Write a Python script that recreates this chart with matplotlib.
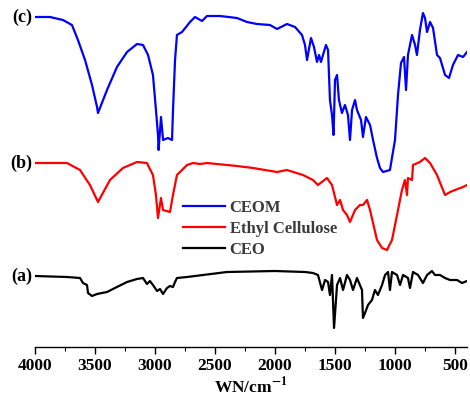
import numpy as np
import matplotlib
matplotlib.use("Agg")
import matplotlib.pyplot as plt
from matplotlib.ticker import MultipleLocator

plt.rcParams['font.family'] = 'Liberation Serif'
plt.rcParams['mathtext.fontset'] = 'stix'

# FTIR spectra (wavenumber, transmittance in arbitrary offset units)
ceom_wn = [4000, 3875, 3767, 3692, 3642, 3583, 3525, 3483, 3475, 3400, 3317, 3233, 3150, 3100,
           3058, 3017, 2992, 2975, 2970, 2950, 2933, 2892, 2858, 2850, 2833, 2817, 2775, 2708,
           2667, 2608, 2567, 2458, 2317, 2233, 2150, 2042, 1983, 1900, 1833, 1775, 1750, 1733,
           1700, 1675, 1650, 1633, 1617, 1600, 1575, 1558, 1542, 1525, 1512, 1500, 1483, 1467,
           1442, 1417, 1392, 1375, 1358, 1333, 1317, 1283, 1267, 1242, 1208, 1183, 1150, 1125,
           1100, 1042, 1017, 1000, 975, 950, 925, 908, 892, 858, 833, 817, 792, 767, 750, 733,
           708, 683, 650, 625, 583, 550, 517, 475, 433, 400]
ceom_t = [330, 330, 327, 322, 307, 287, 262, 240, 234, 257, 280, 295, 303, 302,
          292, 272, 237, 212, 197, 230, 207, 209, 207, 237, 287, 312, 315, 325,
          330, 326, 331, 331, 329, 325, 323, 322, 318, 323, 320, 312, 302, 287,
          309, 300, 285, 292, 285, 292, 302, 297, 247, 232, 212, 267, 272, 247,
          234, 242, 232, 207, 237, 247, 237, 227, 210, 230, 222, 207, 189, 179,
          175, 177, 195, 207, 252, 284, 290, 257, 292, 312, 302, 292, 317, 334, 329, 315,
          325, 319, 292, 289, 272, 269, 282, 292, 290, 295]

ec_wn = [4000, 3733, 3625, 3542, 3475, 3375, 3267, 3150, 3067, 3017, 2992, 2975, 2950, 2933,
         2875, 2850, 2817, 2775, 2733, 2683, 2625, 2567, 2317, 2183, 1983, 1900, 1767, 1683,
         1642, 1567, 1525, 1483, 1458, 1433, 1400, 1375, 1333, 1292, 1267, 1233, 1208, 1150,
         1108, 1067, 1025, 983, 942, 917, 900, 892, 858, 850, 792, 750, 708, 650, 583, 540,
         500, 433, 400]
ec_t = [184, 184, 177, 162, 145, 167, 179, 185, 184, 172, 152, 129, 149, 137,
        135, 152, 172, 177, 182, 184, 183, 184, 181, 179, 175, 177, 172, 167,
        162, 169, 162, 142, 147, 137, 132, 125, 137, 142, 142, 147, 137, 107,
        99, 97, 107, 132, 157, 167, 152, 169, 167, 182, 185, 189, 184, 172, 152, 155,
        157, 160, 162]

ceo_wn = [4000, 3733, 3625, 3600, 3567, 3558, 3525, 3483, 3400, 3317, 3233, 3150, 3100, 3067,
          3042, 3017, 2983, 2958, 2933, 2900, 2875, 2850, 2833, 2817, 2733, 2400, 2000, 1750,
          1683, 1642, 1608, 1583, 1558, 1542, 1525, 1508, 1483, 1458, 1433, 1400, 1375, 1350,
          1317, 1275, 1267, 1250, 1225, 1192, 1167, 1142, 1108, 1083, 1058, 1042, 1025, 983,
          958, 933, 892, 875, 850, 808, 767, 733, 692, 667, 625, 583, 542, 483, 442, 400]
ceo_t = [71, 70, 69, 64, 62, 54, 51, 53, 55, 60, 65, 68, 69, 63,
         66, 62, 56, 58, 53, 59, 61, 60, 65, 69, 70, 75, 76, 75,
         74, 72, 57, 67, 65, 52, 72, 19, 62, 69, 57, 72, 67, 57,
         69, 57, 29, 34, 42, 47, 57, 52, 62, 72, 75, 57, 75, 72,
         62, 72, 69, 59, 75, 72, 64, 72, 76, 72, 72, 69, 67, 67, 64, 66]

labels = ['CEOM', 'Ethyl Cellulose', 'CEO']
tags = ['(c)', '(b)', '(a)']
colors = ['#0000ff', '#ff0000', '#000000']

fig = plt.figure(figsize=(4.7, 3.98), dpi=100)
ax = fig.add_axes([35 / 470, 51 / 398, 432 / 470, 347 / 398])

series = [(ceom_wn, ceom_t), (ec_wn, ec_t), (ceo_wn, ceo_t)]
for (wn, t), lab, c, tag in zip(series, labels, colors, tags):
    ax.plot(wn, t, color=c, lw=1.6, label=lab)
    ax.text(4020, t[0], tag, ha='right', va='center', fontsize=13,
            fontweight='bold', clip_on=False)

ax.set_xlim(4000, 400)
ax.set_ylim(0, 347)
for s in ['left', 'top', 'right']:
    ax.spines[s].set_visible(False)
ax.spines['bottom'].set_linewidth(1.0)
ax.set_yticks([])
ax.xaxis.set_major_locator(MultipleLocator(500))
ax.xaxis.set_minor_locator(MultipleLocator(250))
ax.tick_params(axis='x', which='major', direction='out', length=5, width=1.0,
               labelsize=12.5, pad=3)
ax.tick_params(axis='x', which='minor', direction='out', length=3, width=0.8)
for lbl in ax.get_xticklabels():
    lbl.set_fontweight('bold')
ax.set_xlabel(r'WN/cm$^{\mathbf{-1}}$', fontsize=12.5, fontweight='bold')
ax.xaxis.set_label_coords(0.5, -0.085)

leg = ax.legend(loc='upper left', bbox_to_anchor=(183 / 470, 1 - 200 / 398),
                bbox_transform=fig.transFigure, frameon=False, borderpad=0,
                borderaxespad=0, handlelength=2.5, handletextpad=0.3,
                labelspacing=0.3, prop={'size': 12, 'weight': 'bold'})
for txt in leg.get_texts():
    txt.set_color('#3a3a3a')

fig.savefig('out.png', dpi=100)
